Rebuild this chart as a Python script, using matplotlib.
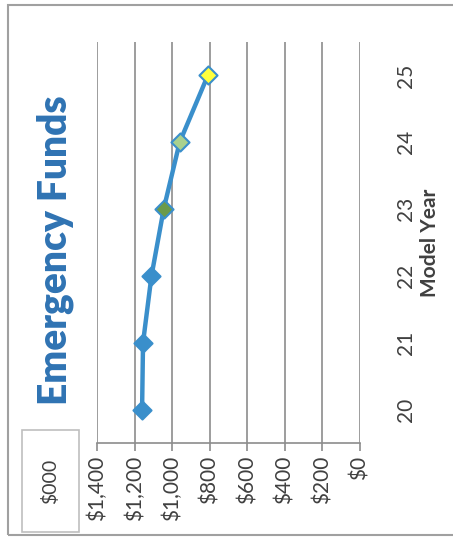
import matplotlib
matplotlib.use('Agg')
import matplotlib.pyplot as plt
from matplotlib.patches import Rectangle

plt.rcParams['font.family'] = ['Lato', 'DejaVu Sans']

# chart data
years = [20, 21, 22, 23, 24, 25]
funds = [1160, 1155, 1110, 1045, 960, 810]
marker_colors = ['#3a8fcb', '#3a8fcb', '#3a8fcb', '#6b9a4a', '#a9d18e', '#ffff3c']
value_ticks = [1400, 1200, 1000, 800, 600, 400, 200, 0]
value_labels = ['$1,400', '$1,200', '$1,000', '$800', '$600', '$400', '$200', '$0']

W, H = 453, 537
fig = plt.figure(figsize=(W / 100, H / 100), dpi=100)

# whole chart is turned on its side: values run along the bottom, years up the right
ax = fig.add_axes([97 / W, 1 - 443 / H, 263 / W, 401 / H])
line_col = '#3a8fcb'
ax.plot(funds, years, color=line_col, lw=3.2, zorder=3)
for f, y, c in zip(funds, years, marker_colors):
    ax.scatter(f, y, marker='D', s=85, facecolor=c, edgecolor=line_col, linewidth=1.5, zorder=4)

ax.set_xlim(1400, 0)
ax.set_ylim(19.5, 25.5)
ax.set_xticks(value_ticks)
ax.set_xticklabels(value_labels, rotation=90, fontsize=15, color='#404040')
ax.xaxis.grid(True, color='#8c8c8c', lw=1.2)
ax.set_axisbelow(True)
ax.tick_params(axis='x', length=6, width=1.2, color='#8c8c8c', pad=3)

ax.yaxis.tick_right()
ax.yaxis.set_label_position('right')
ax.set_yticks(years)
ax.set_yticklabels([str(y) for y in years], rotation=90, va='center', fontsize=15, color='#404040')
ax.tick_params(axis='y', length=0, pad=26)
ax.set_ylabel('Model Year', rotation=90, fontsize=15, fontweight='bold', color='#404040', labelpad=3)

for s in ['top', 'left', 'right']:
    ax.spines[s].set_visible(False)
ax.spines['bottom'].set_color('#8c8c8c')
ax.spines['bottom'].set_linewidth(1.2)

fig.text(55 / W, 1 - 250 / H, 'Emergency Funds', rotation=90, ha='center', va='center',
         fontsize=28, fontweight='heavy', color='#2f73b3')

# units box
fig.patches.append(Rectangle((22 / W, 1 - 532 / H), 57 / W, 102 / H, transform=fig.transFigure,
                             fill=False, edgecolor='#bfbfbf', lw=1.2))
fig.text(50 / W, 1 - 481 / H, '$000', rotation=90, ha='center', va='center', fontsize=14, color='#404040')

# outer frame
fig.patches.append(Rectangle((8 / W, 1 - 535 / H), 460 / W, 530 / H, transform=fig.transFigure,
                             fill=False, edgecolor='#a0a0a0', lw=1.5))

fig.savefig('out.png', dpi=100)
